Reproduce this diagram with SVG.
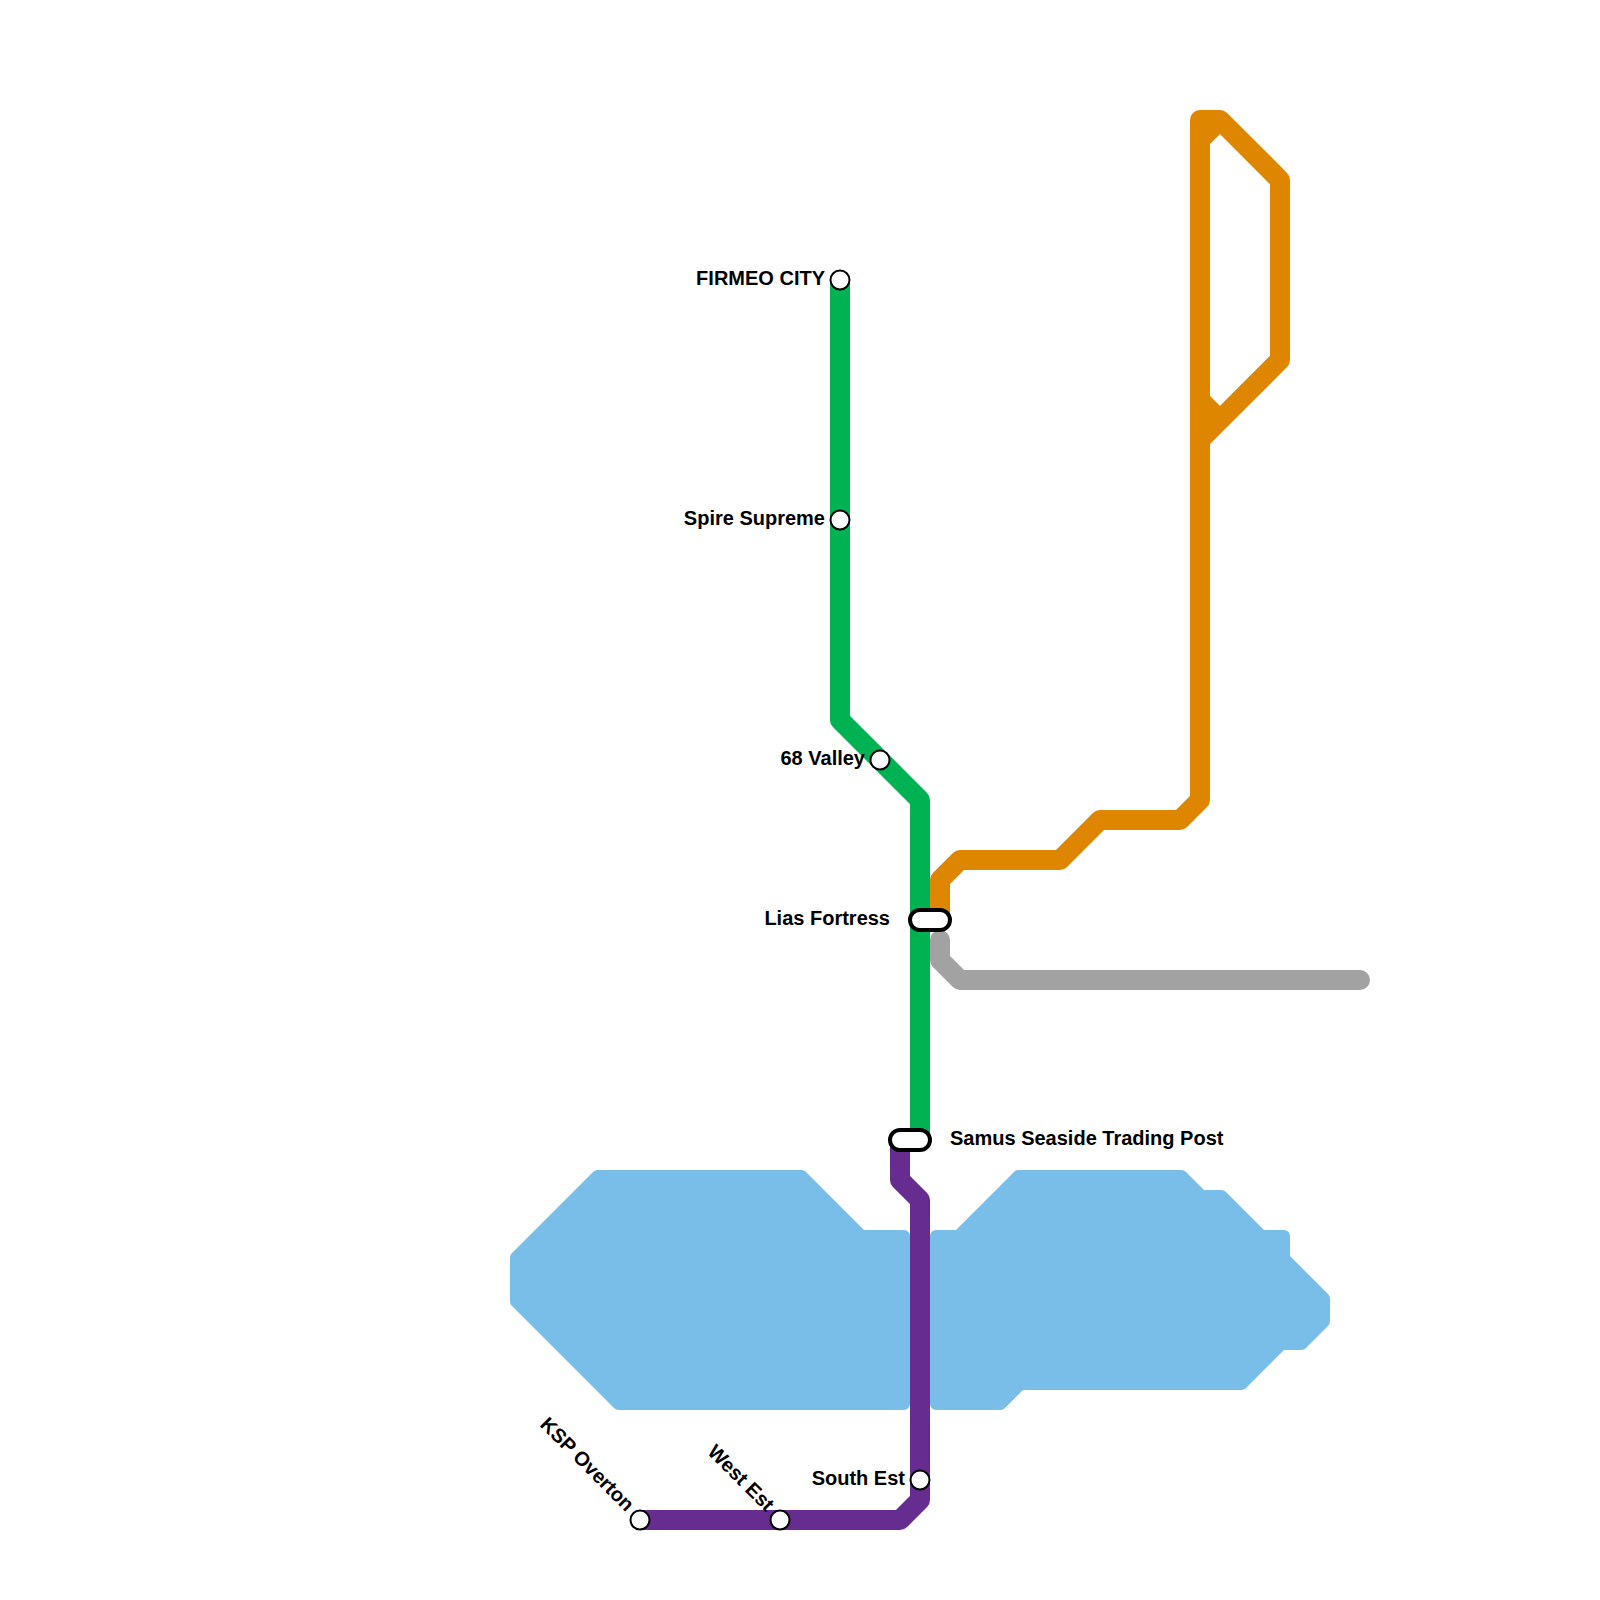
<svg xmlns="http://www.w3.org/2000/svg" width="1600" height="1600" viewBox="0 0 1600 1600">
<style>
.water{fill:#79bde9;stroke:#79bde9;stroke-width:12;stroke-linejoin:round}
.line{fill:none;stroke-width:20;stroke-linejoin:round}
.st{fill:#fff;stroke:#000;stroke-width:2}
.ic{fill:#fff;stroke:#000;stroke-width:4}
text{font-family:"Liberation Sans",Arial,sans-serif;font-weight:bold;font-size:20px;fill:#000}
.e{text-anchor:end}
</style>
<rect width="1600" height="1600" fill="#fff"/>
<g id="water">
<path class="water" d="M597.5 1176H801.5L861.5 1236H904V1404H618.5L516 1301.5V1257.5Z"/>
<path class="water" d="M936 1236H958.5L1018.5 1176H1181.5L1201.5 1196H1221.5L1261.5 1236H1284V1258.5L1324 1298.5V1321.5L1301.5 1344H1281.5L1241.5 1384H1020.5L1000.5 1404H936Z"/>
</g>
<g id="connectors">
<path class="line" stroke="#00b251" d="M840 280V720L920 800V1140"/>
<path class="line" stroke="#df8600" d="M940 915V880L960 860H1060L1100 820H1180L1200 800V120H1220L1280 180V360L1200 440M1200 140L1220 120M1200 400L1220 420"/>
<path class="line" stroke="#a2a2a2" stroke-linecap="round" d="M940 940V960L960 980H1360"/>
<path class="line" stroke="#662c90" d="M900 1140V1180L920 1200V1500L900 1520H640"/>
</g>
<g id="firmeo-city"><circle class="st" cx="840" cy="280" r="9.5"/><text class="e" x="825" y="285">FIRMEO CITY</text></g>
<g id="spire-supreme"><circle class="st" cx="840" cy="520" r="9.5"/><text class="e" x="825" y="525">Spire Supreme</text></g>
<g id="valley-68"><circle class="st" cx="880" cy="760" r="9.5"/><text class="e" x="865" y="765">68 Valley</text></g>
<g id="lias-fortress"><rect class="ic" x="910" y="910" width="40" height="20" rx="10"/><text class="e" x="890" y="925">Lias Fortress</text></g>
<g id="samus-seaside"><rect class="ic" x="890" y="1130" width="40" height="20" rx="10"/><text x="950" y="1145">Samus Seaside Trading Post</text></g>
<g id="south-est"><circle class="st" cx="920" cy="1480" r="9.5"/><text class="e" x="905" y="1485">South Est</text></g>
<g id="west-est"><circle class="st" cx="780" cy="1520" r="9.5"/><text class="e" transform="translate(766 1512.5) rotate(45)">West Est</text></g>
<g id="ksp-overton"><circle class="st" cx="640" cy="1520" r="9.5"/><text class="e" transform="translate(626 1512.5) rotate(45)">KSP Overton</text></g>
</svg>
